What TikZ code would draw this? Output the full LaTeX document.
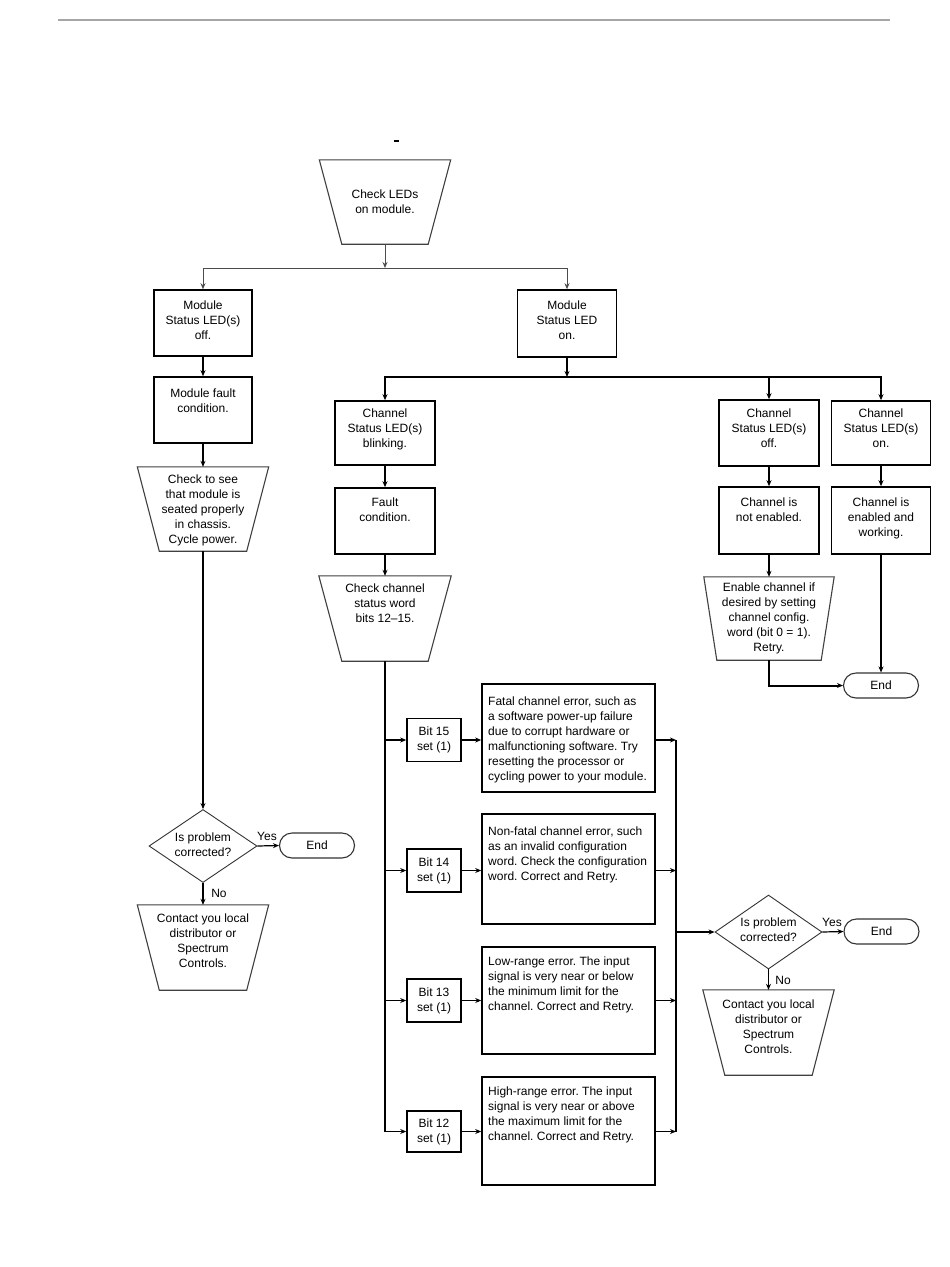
\documentclass[tikz,border=0pt]{standalone}
\usepackage{fontspec}
\setmainfont{Liberation Sans}
\usetikzlibrary{shapes.geometric,shapes.misc,arrows.meta}
\newcommand\trapz[2]{\draw[trapl] (#1.north west) -- (#1.north east) -- ([xshift=-#2pt]#1.south east) -- ([xshift=#2pt]#1.south west) -- cycle;}
\frenchspacing
\begin{document}
\begin{tikzpicture}[x=1pt,y=-1pt,
  txt/.style={font=\fontsize{12}{15}\selectfont\frenchspacing, align=center, inner sep=0pt, text=black},
  ltxt/.style={txt, align=left, anchor=west},
  boxn/.style={draw=black, line width=1.6pt, rectangle, inner sep=0pt},
  trap/.style={rectangle, inner sep=0pt},
  trapl/.style={draw=black!75, line width=1.1pt, line join=miter},
  dia/.style={draw=black!80, line width=0.9pt, diamond, inner sep=0pt},
  term/.style={draw=black!80, line width=1.1pt, rounded rectangle, inner sep=0pt,
    minimum width=75, minimum height=25, font=\fontsize{12}{15}\selectfont},
  arr/.style={-{Stealth[length=6pt,width=5pt]}, line width=1.2pt},
  thinarr/.style={-{Stealth[length=6pt,width=5pt]}, line width=0.9pt, draw=black!70},
  busarr/.style={-{Stealth[length=6pt,width=5pt]}, line width=2pt}
]
\fill[white] (0,0) rectangle (950,1267);
\useasboundingbox (0,0) rectangle (950,1267);

% header rule and stray mark
\draw[line width=2pt, black!35] (58,20) -- (890,20);
\draw[line width=1.5pt] (394,141) -- (399,141);

% ---------- top ----------
\node[trap, minimum width=131, minimum height=84] (T0) at (385,202) {};
\trapz{T0}{22.5}
\node[txt] (t0) at (385,202) {Check LEDs\\on module.};

\node[boxn, minimum width=98, minimum height=66] (B1) at (203,323) {};
\node[txt] (b1) at (203,320) {Module\\Status LED(s)\\off.};
\node[boxn, minimum width=99, minimum height=67] (B2) at (567,323.5) {};
\node[txt] (b2) at (567,320) {Module\\Status LED\\on.};

\coordinate (h0) at (385,268);
\draw[thinarr] (T0.south) -- (h0);
\draw[thinarr] (h0) -| (B1.north);
\draw[thinarr] (h0) -| (B2.north);

% ---------- left column ----------
\node[boxn, minimum width=98, minimum height=66] (B3) at (203,410) {};
\node[txt] (b3) at (203,401) {Module fault\\condition.};

\node[trap, minimum width=131, minimum height=84] (T1) at (203,509) {};
\trapz{T1}{22}
\node[txt] (t1) at (203,510) {Check to see\\that module is\\seated properly\\in chassis.\\Cycle power.};

\node[dia, minimum width=108, minimum height=73] (D1) at (203,846) {};
\node[txt] (d1) at (203,845) {Is problem\\corrected?};
\node[term] (E1) at (317,845.5) {End};
\node[txt] (y1) at (267,836) {Yes};
\node[txt] (n1) at (219,893) {No};

\node[trap, minimum width=131, minimum height=85] (T2) at (203,947.5) {};
\trapz{T2}{22}
\node[txt] (t2) at (203,941) {Contact you local\\distributor or\\Spectrum\\Controls.};

\draw[arr] (B1.south) -- (B3.north);
\draw[arr] (B3.south) -- (T1.north);
\draw[arr] (T1.south) -- (D1.north);
\draw[arr] (D1.east) -- (E1.west);
\draw[arr] (D1.south) -- (T2.north);

% ---------- channel row ----------
\node[boxn, minimum width=100, minimum height=64] (C1) at (385,433) {};
\node[txt] (c1) at (385,429) {Channel\\Status LED(s)\\blinking.};
\node[boxn, minimum width=100, minimum height=66] (R1) at (769,433) {};
\node[txt] (r1) at (769,428) {Channel\\Status LED(s)\\off.};
\node[boxn, minimum width=99, minimum height=64] (R2) at (881,433) {};
\node[txt] (r2) at (881,428) {Channel\\Status LED(s)\\on.};

\coordinate (h1) at (567,377);
\draw[busarr] (B2.south) -- (h1);
\draw[busarr] (h1) -| (C1.north);
\draw[busarr] (h1) -| (R1.north);
\draw[busarr] (h1) -| (R2.north);

\node[boxn, minimum width=100, minimum height=66] (C2) at (385,521) {};
\node[txt] (c2) at (385,510) {Fault\\condition.};
\node[trap, minimum width=132, minimum height=85] (T3) at (385,618.5) {};
\trapz{T3}{23}
\node[txt] (t3) at (385,603) {Check channel\\status word\\bits 12–15.};

\draw[arr] (C1.south) -- (C2.north);
\draw[arr] (C2.south) -- (T3.north);

\node[boxn, minimum width=100, minimum height=67] (R3) at (769,520.5) {};
\node[txt] (r3) at (769,510) {Channel is\\not enabled.};
\node[boxn, minimum width=99, minimum height=67] (R4) at (881,520.5) {};
\node[txt] (r4) at (881,518) {Channel is\\enabled and\\working.};
\node[trap, minimum width=130, minimum height=83] (T4) at (769,618.5) {};
\trapz{T4}{13}
\node[txt] (t4) at (769,618) {Enable channel if\\desired by setting\\channel config.\\word (bit 0 = 1).\\Retry.};
\node[term] (E2) at (881,685.5) {End};

\draw[busarr] (R1.south) -- (R3.north);
\draw[busarr] (R2.south) -- (R4.north);
\draw[busarr] (R3.south) -- (T4.north);
\draw[busarr] (T4.south) |- (E2.west);
\draw[busarr] (R4.south) -- (E2.north);

% ---------- bit section ----------
\node[boxn, minimum width=54, minimum height=43] (Q15) at (434,740) {};
\node[txt] (q15) at (434,740) {Bit 15\\set (1)};
\node[boxn, minimum width=54, minimum height=43] (Q14) at (434,870.5) {};
\node[txt] (q14) at (434,870.5) {Bit 14\\set (1)};
\node[boxn, minimum width=54, minimum height=43] (Q13) at (434,1000.5) {};
\node[txt] (q13) at (434,1000.5) {Bit 13\\set (1)};
\node[boxn, minimum width=54, minimum height=41] (Q12) at (434,1131.5) {};
\node[txt] (q12) at (434,1131.5) {Bit 12\\set (1)};

\node[boxn, minimum width=173, minimum height=108] (F15) at (568.5,738) {};
\node[ltxt] (f15) at (488,740) {Fatal channel error, such as\\a software power-up failure\\due to corrupt hardware or\\malfunctioning software. Try\\resetting the processor or\\cycling power to your module.};
\node[boxn, minimum width=173, minimum height=110] (F14) at (568.5,869) {};
\node[ltxt] (f14) at (488,854.5) {Non-fatal channel error, such\\as an invalid configuration\\word. Check the configuration\\word. Correct and Retry.};
\node[boxn, minimum width=173, minimum height=107] (F13) at (568.5,1000.5) {};
\node[ltxt] (f13) at (488,985) {Low-range error. The input\\signal is very near or below\\the minimum limit for the\\channel. Correct and Retry.};
\node[boxn, minimum width=173, minimum height=108] (F12) at (568.5,1131) {};
\node[ltxt] (f12) at (488,1115) {High-range error. The input\\signal is very near or above\\the maximum limit for the\\channel. Correct and Retry.};

\draw[arr] (T3.south) |- (Q12.west);
\draw[arr] (T3.south |- Q15.west) -- (Q15.west);
\draw[arr] (T3.south |- Q14.west) -- (Q14.west);
\draw[arr] (T3.south |- Q13.west) -- (Q13.west);
\draw[arr] (Q15.east) -- (Q15.east -| F15.west);
\draw[arr] (Q14.east) -- (Q14.east -| F14.west);
\draw[arr] (Q13.east) -- (Q13.east -| F13.west);
\draw[arr] (Q12.east) -- (Q12.east -| F12.west);

\coordinate (rb) at (676,0);
\draw[line width=2pt] (rb |- Q15.east) -- (rb |- Q12.east);
\draw[arr] (Q15.east -| F15.east) -- (rb |- Q15.east);
\draw[arr] (Q14.east -| F14.east) -- (rb |- Q14.east);
\draw[arr] (Q13.east -| F13.east) -- (rb |- Q13.east);
\draw[arr] (Q12.east -| F12.east) -- (rb |- Q12.east);

\node[dia, minimum width=107, minimum height=74] (D2) at (768.5,932) {};
\node[txt] (d2) at (768.5,930) {Is problem\\corrected?};
\node[term] (E3) at (881.5,931.5) {End};
\node[txt] (y2) at (832,922) {Yes};
\node[txt] (n2) at (783,980) {No};
\node[trap, minimum width=131, minimum height=85] (T5) at (768.5,1032.5) {};
\trapz{T5}{22}
\node[txt] (t5) at (768.5,1027) {Contact you local\\distributor or\\Spectrum\\Controls.};

\draw[arr] (rb |- D2.west) -- (D2.west);
\draw[arr] (D2.east) -- (E3.west);
\draw[arr] (D2.south) -- (T5.north);
\end{tikzpicture}
\end{document}
